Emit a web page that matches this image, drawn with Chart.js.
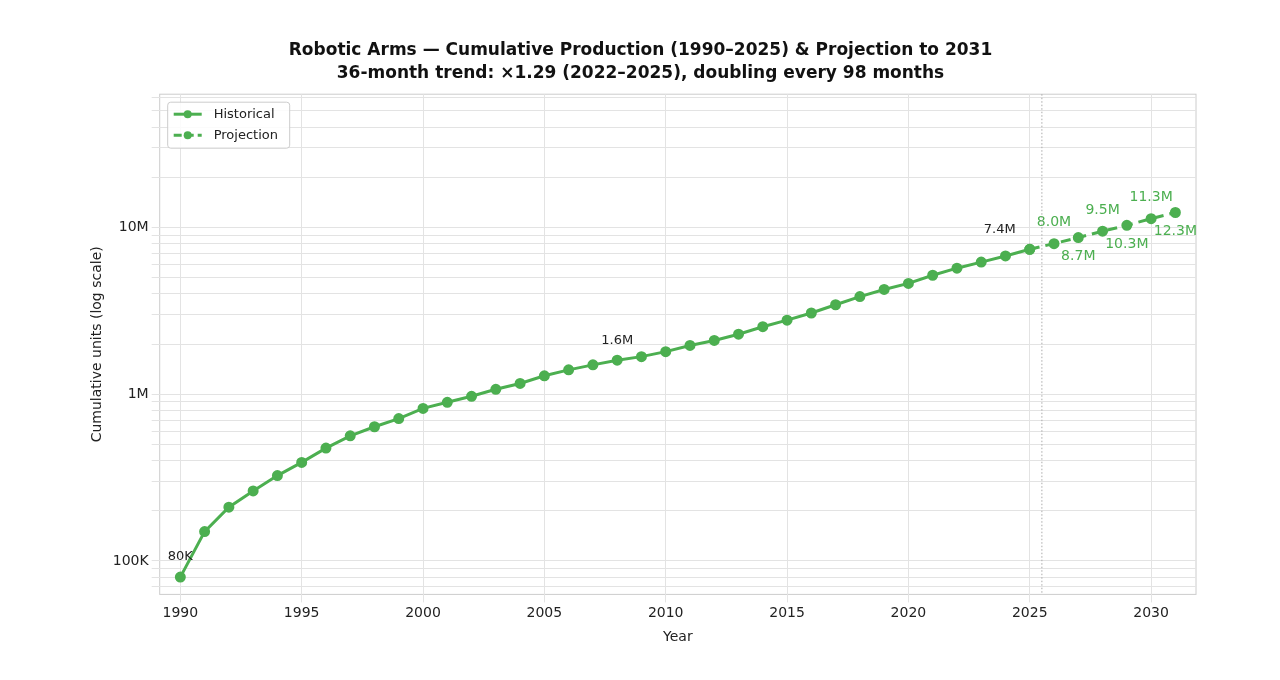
<!DOCTYPE html>
<html>
<head>
<meta charset="utf-8">
<script src="https://cdn.jsdelivr.net/npm/chart.js@4/dist/chart.umd.min.js"></script>
<style>
  html, body { margin: 0; padding: 0; background: #fff; }
  #wrap { width: 1280px; height: 680px; }
</style>
</head>
<body>
<div id="wrap"><canvas id="arms"></canvas></div>
<script>
// Historical cumulative units, 1990-2025
var hist_years = [1990,1991,1992,1993,1994,1995,1996,1997,1998,1999,2000,2001,2002,2003,2004,2005,2006,2007,2008,2009,2010,2011,2012,2013,2014,2015,2016,2017,2018,2019,2020,2021,2022,2023,2024,2025];
var hist_units = [80000,150000,210000,263000,325000,390000,475000,563000,638000,714000,822000,894000,972000,1070000,1160000,1290000,1400000,1500000,1600000,1680000,1800000,1960000,2100000,2290000,2540000,2780000,3070000,3440000,3850000,4250000,4620000,5170000,5700000,6200000,6750000,7400000];

// Projection 2025-2031 (starts at last historical point)
var proj_years = [2025,2026,2027,2028,2029,2030,2031];
var proj_units = [7400000,8000000,8700000,9500000,10300000,11300000,12300000];

// Annotated points
var hist_labels = [ {x: 1990, y: 80000, text: '80K', dx: 0}, {x: 2008, y: 1600000, text: '1.6M', dx: 0}, {x: 2025, y: 7400000, text: '7.4M', dx: -30} ];
var proj_labels = ['8.0M','8.7M','9.5M','10.3M','11.3M','12.3M'];

var green = '#4caf50';

var labelPlugin = {
	id: 'pointLabels',
	afterDatasetsDraw: function(chart) {
		var ctx = chart.ctx, xs = chart.scales.x, ys = chart.scales.y, a = chart.chartArea;
		ctx.save();
		ctx.textAlign = 'center';
		ctx.textBaseline = 'middle';
		ctx.font = '13px "DejaVu Sans"';
		ctx.fillStyle = '#222';
		hist_labels.forEach(function(l) {
			ctx.fillText(l.text, xs.getPixelForValue(l.x) + l.dx, ys.getPixelForValue(l.y) - 20);
		});
		ctx.font = '14px "DejaVu Sans"';
		ctx.fillStyle = green;
		for (var i = 0; i < proj_labels.length; i++) {
			var px = xs.getPixelForValue(proj_years[i + 1]);
			var py = ys.getPixelForValue(proj_units[i + 1]);
			var off = (i % 2 == 0) ? -21 : 19;
			ctx.fillText(proj_labels[i], px, py + off);
		}
		// dotted separator
		var vx = xs.getPixelForValue(2025.5);
		ctx.strokeStyle = '#aaa';
		ctx.lineWidth = 1;
		ctx.setLineDash([1.5, 2]);
		ctx.beginPath();
		ctx.moveTo(vx, a.top);
		ctx.lineTo(vx, a.bottom);
		ctx.stroke();
		// legend box
		ctx.setLineDash([]);
		var lx = a.left + 8, ly = a.top + 8;
		ctx.fillStyle = 'rgba(255,255,255,0.85)';
		ctx.strokeStyle = '#ccc';
		ctx.beginPath();
		ctx.roundRect(lx, ly, 122, 46, 3);
		ctx.fill();
		ctx.stroke();
		ctx.textAlign = 'left';
		ctx.font = '13px "DejaVu Sans"';
		['Historical', 'Projection'].forEach(function(t, i) {
			var y = ly + 12 + i * 21;
			ctx.strokeStyle = green;
			ctx.lineWidth = 3;
			ctx.setLineDash(i == 0 ? [] : [8, 4]);
			ctx.beginPath();
			ctx.moveTo(lx + 6, y);
			ctx.lineTo(lx + 34, y);
			ctx.stroke();
			ctx.setLineDash([]);
			ctx.fillStyle = green;
			ctx.beginPath();
			ctx.arc(lx + 20, y, 4, 0, Math.PI * 2);
			ctx.fill();
			ctx.fillStyle = '#222';
			ctx.fillText(t, lx + 46, y);
		});
		ctx.restore();
	}
};

var frame = {
	id: 'frame',
	beforeDraw: function(chart) {
		var a = chart.chartArea, ctx = chart.ctx;
		ctx.save();
		ctx.strokeStyle = '#ccc';
		ctx.lineWidth = 1;
		ctx.strokeRect(a.left, a.top, a.right - a.left, a.bottom - a.top);
		ctx.restore();
	}
};

var cfg = {
	type: 'line',
	data: {
		datasets: [
			{ label: 'Historical', data: hist_years.map(function(y, i) { return {x: y, y: hist_units[i]}; }),
			  borderColor: green, backgroundColor: green, borderWidth: 3, pointRadius: 4, pointHoverRadius: 4 },
			{ label: 'Projection', data: proj_years.map(function(y, i) { return {x: y, y: proj_units[i]}; }),
			  borderColor: green, backgroundColor: green, borderWidth: 3, borderDash: [10, 6], pointRadius: 4,
			  pointHoverRadius: 4 }
		]
	},
	options: {
		responsive: true,
		maintainAspectRatio: false,
		animation: false,
		layout: { padding: { left: 85, right: 84, top: 40, bottom: 30 } },
		plugins: {
			title: { display: true, text: ['Robotic Arms \u2014 Cumulative Production (1990\u20132025) & Projection to 2031', '36-month trend: \u00d71.29 (2022\u20132025), doubling every 98 months'],
			         color: '#111', font: { family: 'DejaVu Sans', size: 17, weight: 'bold', lineHeight: 1.3 }, padding: { bottom: 10 } },
			legend: { display: false },
			tooltip: { enabled: false }
		},
		scales: {
			x: { type: 'linear', min: 1989.15, max: 2031.85,
			     afterBuildTicks: function(s) { s.ticks = [1990,1995,2000,2005,2010,2015,2020,2025,2030].map(function(v) { return {value: v}; }); },
			     ticks: { callback: function(v) { return v; }, color: '#222', font: { family: 'DejaVu Sans', size: 14 } },
			     grid: { color: '#e3e3e3' }, border: { display: false },
			     title: { display: true, text: 'Year', color: '#222', font: { family: 'DejaVu Sans', size: 14 } } },
			y: { type: 'logarithmic', min: 63000, max: 63000000,
			     afterBuildTicks: function(s) {
			     	var t = [];
			     	[1e4, 1e5, 1e6, 1e7].forEach(function(d) { for (var k = 1; k < 10; k++) { var v = d * k; if (v >= 63000 && v <= 63000000) t.push({value: v}); } });
			     	s.ticks = t;
			     },
			     ticks: { autoSkip: false, color: '#222', font: { family: 'DejaVu Sans', size: 14 },
			              callback: function(v) { return v == 1e5 ? '100K' : v == 1e6 ? '1M' : v == 1e7 ? '10M' : ''; } },
			     grid: { color: '#e3e3e3' }, border: { display: false },
			     title: { display: true, text: 'Cumulative units (log scale)', color: '#222', font: { family: 'DejaVu Sans', size: 14 } } }
		}
	},
	plugins: [frame, labelPlugin]
};
new Chart(document.getElementById('arms'), cfg);
</script>
</body>
</html>
